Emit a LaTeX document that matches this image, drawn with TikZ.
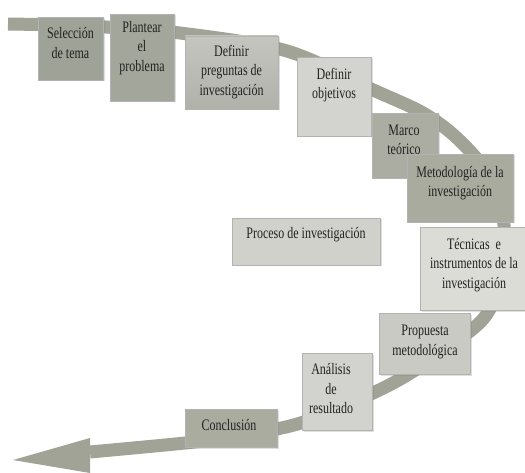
\documentclass[tikz,border=0pt]{standalone}
\usepackage{fontspec}
\setmainfont{Liberation Serif}[FakeStretch=0.75]
\usetikzlibrary{shadows}
\definecolor{bandc}{HTML}{A0A395}
\definecolor{cA}{HTML}{9FA296}
\definecolor{cB}{HTML}{A3A69A}
\definecolor{cC}{HTML}{B9BBB3}
\definecolor{cD}{HTML}{D3D4CF}
\definecolor{cE}{HTML}{ABADA2}
\definecolor{cF}{HTML}{A9AB9F}
\definecolor{cG}{HTML}{DCDCD7}
\definecolor{cH}{HTML}{C9CAC3}
\definecolor{cI}{HTML}{D2D3CE}
\definecolor{cJ}{HTML}{A9AC9F}
\definecolor{cK}{HTML}{D0D1CB}
\definecolor{txtc}{HTML}{222222}
\tikzset{
  box/.style={draw=black!30, line width=0.5pt, inner sep=0pt,
    drop shadow={opacity=0.25, shadow xshift=1.5pt, shadow yshift=-1.5pt}},
  txt/.style={align=center, inner sep=0pt, text=txtc,
    font=\fontsize{16}{19.5}\selectfont},
  band/.style={draw=bandc, line width=13pt, line join=round}
}
\begin{document}
\begin{tikzpicture}[x=1pt,y=-1pt]
\useasboundingbox[fill=white] (0,0) rectangle (525,473);
% band
\coordinate (s0) at (8,24);
\coordinate (e0) at (90,452);
\draw[band] plot[smooth, tension=0.55] coordinates {(8,24) (60,25) (106,27) (180,33) (287,51) (371,89) (423,113) (458,139) (488,175) (504,225) (499,280) (484,318) (440,353) (395,382) (335,410) (290,426) (230,437) (185,443) (90,452)};
\fill[bandc] (90,438) -- (13,460) -- (90,473) -- cycle;
% boxes
\node[box, fill=cA, minimum width=65pt, minimum height=63pt] (b1) at (70.5,48.5) {};
\node[txt] (t1) at (70.5,43) {Selección\\de tema};
\node[box, fill=cB, minimum width=64pt, minimum height=87pt] (b2) at (142,57.5) {};
\node[txt] (t2) at (142,48) {Plantear\\el\\problema};
\node[box, top color=cC!85!white, bottom color=cC!95!black, draw=black!30, minimum width=93pt, minimum height=73pt] (b3) at (231.5,72.5) {};
\node[txt] (t3) at (231.5,72) {Definir\\preguntas de\\investigación};
\node[box, fill=cD, minimum width=74pt, minimum height=79pt] (b4) at (334,96.5) {};
\node[txt] (t4) at (334,85) {Definir\\objetivos};
\node[box, fill=cE, minimum width=66pt, minimum height=65pt] (b5) at (405,145.5) {};
\node[txt] (t5) at (404,140) {Marco\\teórico};
\node[box, fill=cF, minimum width=106pt, minimum height=68pt] (b6) at (460,188) {};
\node[txt] (t6) at (460,183) {Metodología de la\\investigación};
\node[box, fill=cG, minimum width=106pt, minimum height=83pt] (b7) at (473,268.5) {};
\node[txt] (t7) at (474,265) {Técnicas\ \ e\\instrumentos de la\\investigación};
\node[box, fill=cH, minimum width=91pt, minimum height=61pt] (b8) at (424.5,343.5) {};
\node[txt] (t8) at (425,342) {Propuesta\\metodológica};
\node[box, fill=cI, minimum width=70pt, minimum height=77pt] (b9) at (337,391.5) {};
\node[txt] (t9) at (331,389) {Análisis\\de\\resultado};
\node[box, fill=cJ, minimum width=92pt, minimum height=38pt] (b10) at (231,428) {};
\node[txt] (t10) at (229,425) {Conclusión};
\node[box, fill=cK, minimum width=148pt, minimum height=47pt] (b11) at (306,241.5) {};
\node[txt] (t11) at (306,235) {Proceso de investigación};
\end{tikzpicture}
\end{document}
